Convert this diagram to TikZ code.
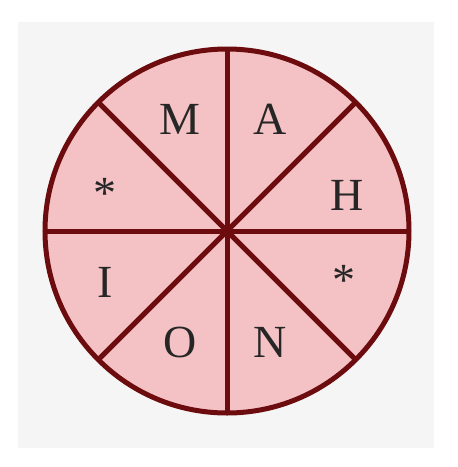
\documentclass[tikz,border=0pt]{standalone}
\usepackage{fontspec}
\setmainfont{Liberation Serif}
\usetikzlibrary{positioning}
\definecolor{wheelpink}{RGB}{244,194,196}
\definecolor{wheelred}{RGB}{108,12,14}
\definecolor{paper}{RGB}{245,245,245}

\begin{document}
\begin{tikzpicture}[x=1pt,y=-1pt,
  spoke/.style={draw=wheelred, line width=5pt},
  letter/.style={anchor=base, inner sep=0pt, font=\fontsize{46}{50}\selectfont, text=black!85}]
  % canvas
  \useasboundingbox (0,0) rectangle (458,467);
  \fill[paper] (18,22) rectangle (434,448);

  % wheel
  \node[spoke, fill=wheelpink, circle, minimum size=364pt, inner sep=0pt, outer sep=0pt] (wheel) at (227,231) {};
  \foreach \a in {0,45,...,315}
    \draw[spoke] (wheel.center) -- (wheel.\a);

  % letters, clockwise from the top
  \node[letter] (la) at (270,134) {A};
  \node[letter] (lh) at (347,210) {H};
  \node[letter] (sr) at (344,295) {*};
  \node[letter] (ln) at (270,357) {N};
  \node[letter] (lo) at (180,357) {O};
  \node[letter] (li) at (105,297) {I};
  \node[letter] (sl) at (105,208) {*};
  \node[letter] (lm) at (180,134) {M};
\end{tikzpicture}
\end{document}
